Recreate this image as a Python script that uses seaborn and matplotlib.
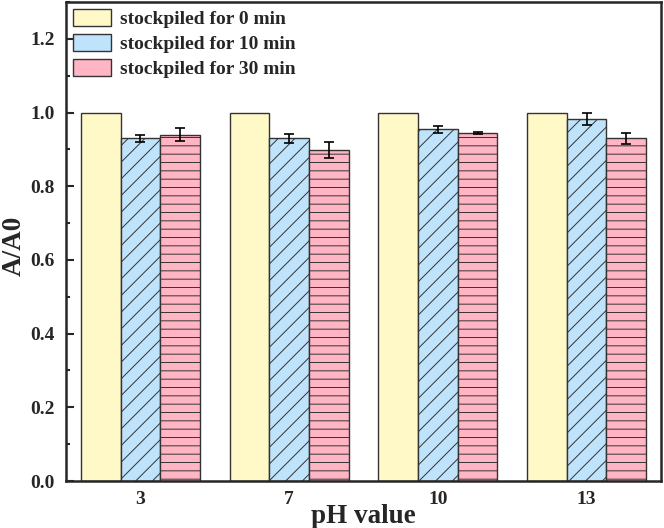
import pandas as pd
import matplotlib
matplotlib.use("Agg")
import matplotlib.pyplot as plt
from matplotlib.ticker import MultipleLocator
import seaborn as sns

# values
ph_values = ["3", "7", "10", "13"]
series_names = ["stockpiled for 0 min", "stockpiled for 10 min", "stockpiled for 30 min"]
ratio_0min = [1.0, 1.0, 1.0, 1.0]
ratio_10min = [0.930, 0.930, 0.955, 0.982]
ratio_30min = [0.940, 0.898, 0.944, 0.930]
err_10min = [0.009, 0.013, 0.010, 0.016]
err_30min = [0.017, 0.021, 0.003, 0.015]

colors = ["#FFF9C8", "#BFE3FA", "#FFB5C4"]
hatches = ["", "//", "--"]

sns.set_style("ticks")
plt.rcParams["font.family"] = ["Liberation Serif", "DejaVu Serif"]
plt.rcParams["font.weight"] = "bold"
plt.rcParams["hatch.linewidth"] = 0.7
plt.rcParams["hatch.color"] = "#333333"

df = pd.DataFrame({
    "pH": ph_values * 3,
    "series": [series_names[0]] * 4 + [series_names[1]] * 4 + [series_names[2]] * 4,
    "value": ratio_0min + ratio_10min + ratio_30min,
})
errs = [None, err_10min, err_30min]

fig = plt.figure(figsize=(6.64, 5.28), dpi=100)
ax = fig.add_axes([0.0994, 0.089, 0.8961, 0.907])

sns.barplot(data=df, x="pH", y="value", hue="series", order=ph_values,
            hue_order=series_names, palette=colors, errorbar=None,
            saturation=1, edgecolor="#333333", linewidth=1.0, ax=ax)

for cont, hatch, err in zip(ax.containers, hatches, errs):
    xs = []
    ys = []
    for bar in cont:
        bar.set_hatch(hatch)
        bar.set_edgecolor("#333333")
        xs.append(bar.get_x() + bar.get_width() / 2)
        ys.append(bar.get_height())
    if err is not None:
        ax.errorbar(xs, ys, yerr=err, fmt="none", ecolor="black",
                    elinewidth=1.2, capsize=3.8, capthick=1.2)

ax.set_xlim(-0.5, 3.5)
ax.set_ylim(0, 1.3)
ax.yaxis.set_major_locator(MultipleLocator(0.2))
ax.yaxis.set_minor_locator(MultipleLocator(0.1))
ax.yaxis.set_major_formatter(matplotlib.ticker.FormatStrFormatter("%.1f"))
ax.tick_params(axis="both", which="major", direction="in", length=6, width=1.5,
               labelsize=14)
ax.tick_params(axis="y", which="major", pad=8)
ax.tick_params(axis="x", which="major", pad=7)
ax.tick_params(axis="y", which="minor", direction="in", length=3, width=1.5)
for lab in ax.get_xticklabels() + ax.get_yticklabels():
    lab.set_fontweight("bold")
for side in ["left", "right", "top", "bottom"]:
    ax.spines[side].set_visible(True)
    ax.spines[side].set_linewidth(1.8)

ax.set_xlabel("pH value", fontsize=19.5, fontweight="bold")
ax.set_ylabel("A/A0", fontsize=19.5, fontweight="bold")
ax.xaxis.set_label_coords(0.5, -0.047)
ax.yaxis.set_label_coords(-0.066, 0.49)

ax.legend(loc="upper left", frameon=False,
          prop={"weight": "bold", "size": 14},
          handlelength=1.95, handleheight=1.0, handletextpad=0.5,
          labelspacing=0.28, borderaxespad=0.0, borderpad=0.35)

fig.savefig("out.png", dpi=100)
